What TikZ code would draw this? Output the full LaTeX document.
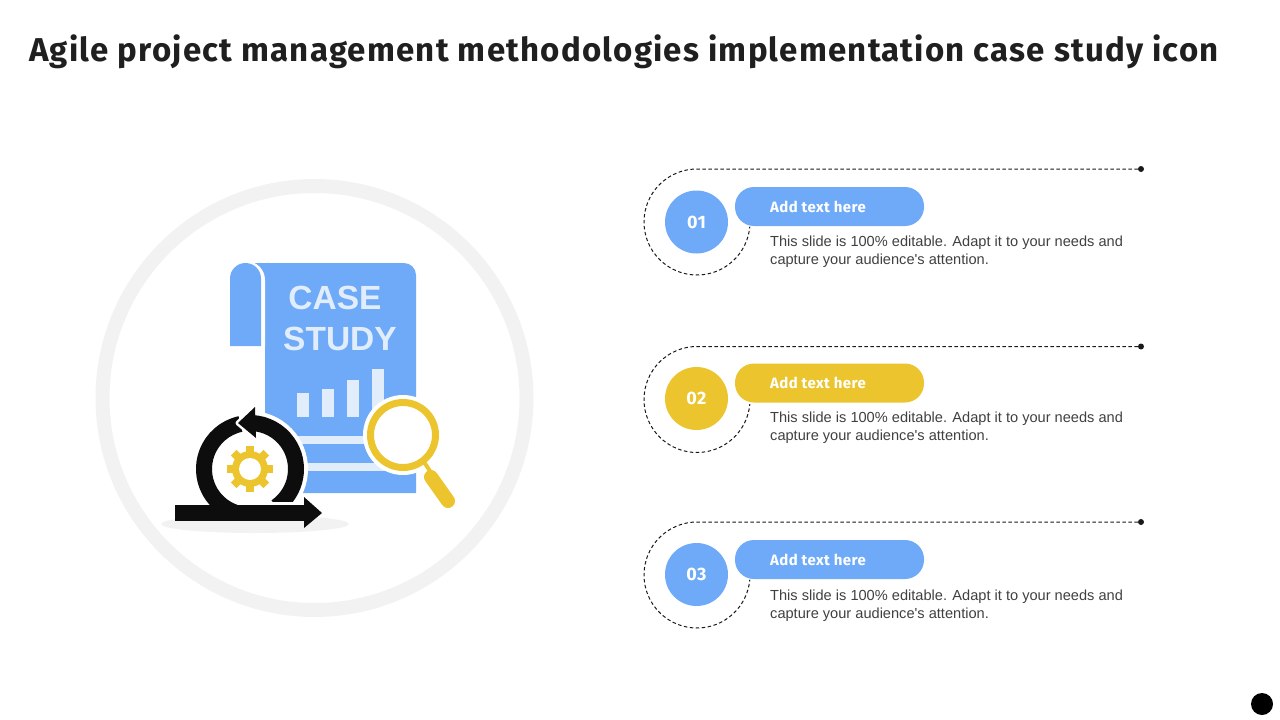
\documentclass[tikz,border=0pt]{standalone}
\usepackage{fontspec}
\setmainfont{Liberation Sans}
\newfontfamily\dinfont[LetterSpace=2.5]{Fira Sans}
\newfontfamily\headfont[LetterSpace=3.7]{Fira Sans}
\usetikzlibrary{positioning,calc}
\definecolor{caseblue}{HTML}{6EAAF7}
\definecolor{caseyellow}{HTML}{EBC42E}
\definecolor{casepale}{HTML}{E2EDFB}
\definecolor{caseink}{HTML}{0D0D0D}
\tikzset{
    badge/.style={circle, inner sep=0pt, minimum size=63pt, text=white, font=\dinfont\bfseries\fontsize{18}{18}\selectfont},
    pillbox/.style={rectangle, rounded corners=19pt, inner sep=0pt, minimum width=189pt, minimum height=39pt},
    pilltext/.style={anchor=west, inner sep=0pt, text=white, font=\dinfont\bfseries\fontsize{15}{18}\selectfont},
    notetext/.style={anchor=north west, inner sep=0pt, align=left, text=black!75, font=\fontsize{14.6}{18}\selectfont},
    enddot/.style={circle, fill=black!90, inner sep=0pt, minimum size=6pt},
    leadline/.style={black!90, line width=1pt, dash pattern=on 3.5pt off 2.5pt},
    bigword/.style={text=casepale, inner sep=0pt, font=\bfseries\fontsize{33.5}{36}\selectfont}
}
\begin{document}
\begin{tikzpicture}[x=1pt,y=1pt]
    \useasboundingbox (0,0) rectangle (1280,-720);
    \node[anchor=west, inner sep=0pt, text=black!88, font=\headfont\bfseries\fontsize{33}{36}\selectfont] (title) at (29,-52) {Agile project management methodologies implementation case study icon};

    % Big ring and shadow
    \draw[black!5, line width=14pt] (314.5,-398) circle (212);
    \fill[black!5] (255,-524) ellipse (94 and 9);

    % Document
    \fill[caseblue] (246,-263) -- (404,-263) arc (90:0:12) -- (416,-493) -- (265,-493) -- (265,-290) -- cycle;
    \fill[white] (246,-261) arc (90:0:19) -- (265,-346) -- (246,-346) -- cycle;
    \fill[caseblue] (230,-346) -- (230,-278.5) arc (180:0:15.5) -- (261,-346) -- cycle;
    \node[bigword] (caseword) at (335,-298) {CASE};
    \node[bigword] (studyword) at (340,-339) {STUDY};
    \foreach \x/\h in {297/393, 322/389, 347/380, 372/369} {
        \fill[casepale] (\x,-\h) rectangle (\x+12,-417);
    }
    \fill[casepale] (295,-436) rectangle (380,-444);
    \fill[casepale] (295,-463) rectangle (400,-471);

    % Magnifier
    \fill[white] (403,-435) circle (40);
    \draw[caseyellow, line width=7pt, fill=white] (403,-435) circle (32.5);
    \draw[caseyellow, line width=4pt] (424,-462) -- (432,-474);
    \draw[caseyellow, line width=14pt, line cap=round] (431,-477) -- (448,-501);

    % Cycle arrow
    \fill[white] (250,-469) circle (40);
    \draw[white, line width=24pt] (250,-469) ++(-40:46) arc (-40:200:46);
    \draw[caseink, line width=16pt] (250,-469) ++(250:46) arc (250:102:46);
    \draw[white, line width=5pt, fill=caseink, line join=round] (255,-407) -- (238,-423) -- (256,-438) -- cycle;
    \draw[caseink, line width=16pt] (250,-469) ++(-55:46) arc (-55:88:46);
    \fill[caseink] (255,-407) -- (238,-423) -- (256,-438) -- cycle;
    \fill[white] (255,-502) rectangle (306,-505);
    \fill[caseink] (175,-505) rectangle (304,-521);
    \fill[caseink] (304,-497) -- (322,-513) -- (304,-528) -- cycle;

    % Gear
    \foreach \a in {0,45,...,315} {
        \draw[caseyellow, line width=8pt] (250,-469) -- ++(\a:23);
    }
    \fill[caseyellow] (250,-469) circle (18);
    \fill[white] (250,-469) circle (11);

    % Rows
    \foreach \i/\yb/\yd/\yp/\ynote/\col in {01/222/169/206.5/236/caseblue, 02/398.5/346.5/383/412/caseyellow, 03/574.5/522/559.5/590/caseblue} {
        \node[enddot] (dot\i) at (1141,-\yd) {};
        \coordinate (turn\i) at (697,-\yd);
        \draw[leadline] (dot\i) -- (turn\i) arc (90:355:53);
        \node[badge, fill=\col] (badge\i) at (696.5,-\yb) {\i};
        \node[pillbox, fill=\col] (pill\i) at (829.5,-\yp) {};
        \node[pilltext] (pilltext\i) at (770,-\yp) {Add text here};
        \node[notetext] (note\i) at (770,-\ynote) {This slide is 100\% editable. Adapt it to your needs and\\capture your audience\textquotesingle s attention.};
    }

    \fill[black] (1262,-704) circle (11);
\end{tikzpicture}
\end{document}
